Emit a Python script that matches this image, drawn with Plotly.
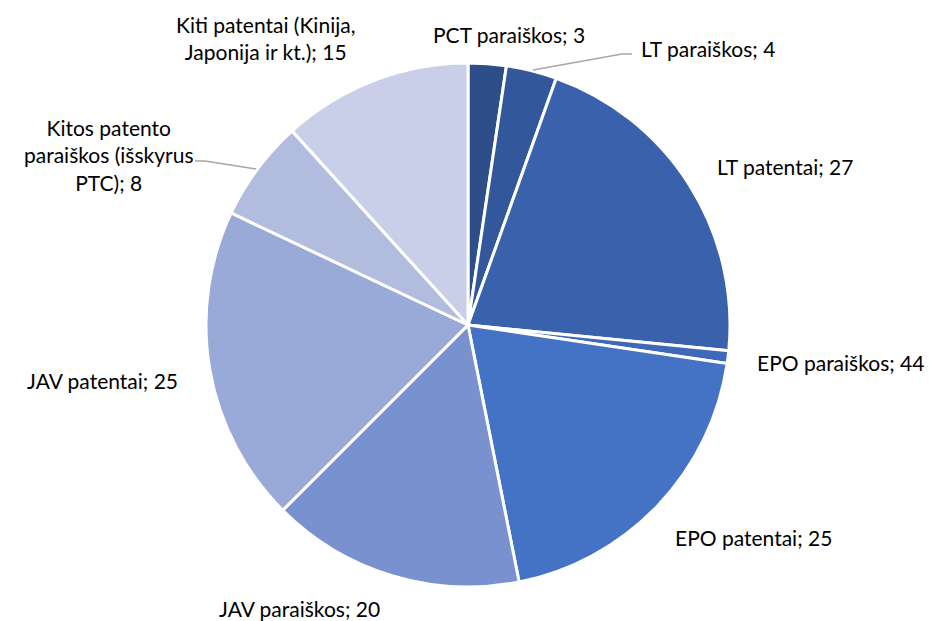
import plotly.graph_objects as go

W, H = 929, 621

categories = ["PCT paraiškos", "LT paraiškos", "LT patentai", "EPO paraiškos",
              "EPO patentai", "JAV paraiškos", "JAV patentai",
              "Kitos patento paraiškos (išskyrus PTC)",
              "Kiti patentai (Kinija, Japonija ir kt.)"]
# slice sizes as drawn
values = [3, 4, 27, 1, 25, 20, 25, 8, 15]
# numbers as printed in the data labels
label_values = [3, 4, 27, 44, 25, 20, 25, 8, 15]
label_texts = ["PCT paraiškos; 3", "LT paraiškos; 4", "LT patentai; 27",
               "EPO paraiškos; 44", "EPO patentai; 25", "JAV paraiškos; 20",
               "JAV patentai; 25",
               "Kitos patento<br>paraiškos (išskyrus<br>PTC); 8",
               "Kiti patentai (Kinija,<br>Japonija ir kt.); 15"]
colors = ["#2E4E89", "#33579B", "#3A62AC", "#3E69B8", "#4472C4",
          "#7A91CF", "#99AAD8", "#B1BCDF", "#C9CFE8"]

cx, cy, r = 468, 325, 262

fig = go.Figure(go.Pie(
    labels=categories, values=values, sort=False, direction="clockwise",
    rotation=0, textinfo="none", hoverinfo="label+value",
    marker=dict(colors=colors, line=dict(color="white", width=3)),
    domain=dict(x=[(cx - r) / W, (cx + r) / W],
                y=[(H - cy - r) / H, (H - cy + r) / H]),
    showlegend=False,
))

# label pixel centers
label_pos = [(509, 34), (708, 48), (785, 167), (840, 362), (753, 537),
             (299, 608), (102, 381), (108, 155), (265, 38)]
for t, (px, py) in zip(label_texts, label_pos):
    fig.add_annotation(x=px / W, y=1 - py / H, xref="paper", yref="paper",
                       text=t, showarrow=False, xanchor="center", yanchor="middle",
                       font=dict(family="Lato, Carlito, sans-serif", size=21, color="#000000"))

def seg(pts):
    path = "M " + " L ".join(f"{x / W},{1 - y / H}" for x, y in pts)
    fig.add_shape(type="path", path=path, xref="paper", yref="paper",
                  line=dict(color="#A6A6A6", width=1.5))

seg([(533, 70), (622, 54), (632, 54)])
seg([(195, 161), (205, 161), (256, 169)])

fig.update_layout(width=W, height=H, margin=dict(l=0, r=0, t=0, b=0),
                  paper_bgcolor="white", plot_bgcolor="white")
fig.write_html("out.html", config={"displayModeBar": False},
               post_script="document.body.style.margin='0';document.body.style.overflow='hidden';")
